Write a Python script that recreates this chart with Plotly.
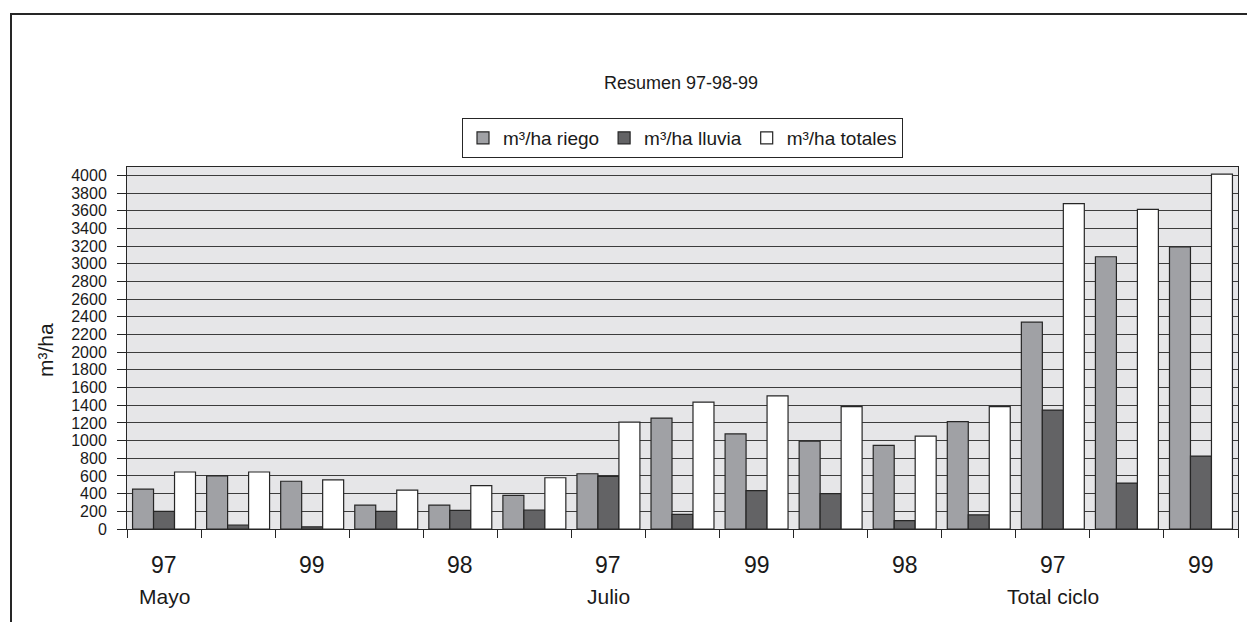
import plotly.graph_objects as go

# Water applied per hectare, by period and campaign
years = ["97", "98", "99", "97", "98", "99", "97", "98", "99", "97", "98", "99", "97", "98", "99"]
periods = ["Mayo", "Julio", "Total ciclo"]
period_start = [0, 6, 12]
riego = [450, 600, 540, 270, 270, 380, 625, 1255, 1075, 995, 945, 1215, 2340, 3080, 3190]
lluvia = [200, 45, 25, 200, 210, 215, 595, 165, 435, 400, 95, 160, 1345, 520, 825]
totales = [645, 645, 555, 440, 490, 580, 1210, 1435, 1505, 1385, 1050, 1385, 3680, 3615, 4015]
y_ticks = list(range(0, 4001, 200))

FONT = "Liberation Sans Narrow, Arial Narrow, Liberation Sans, Arial, sans-serif"
INK = "#1a1a1a"
W, H = 1247, 622
ML, MR, MT, MB = 127, 9, 167, 93

x = list(range(len(years)))
outline = dict(color="#262626", width=1.2)

fig = go.Figure()
fig.add_bar(x=x, y=riego, name="m³/ha riego", marker=dict(color="#a0a1a5", line=outline))
fig.add_bar(x=x, y=lluvia, name="m³/ha lluvia", marker=dict(color="#636365", line=outline))
fig.add_bar(x=x, y=totales, name="m³/ha totales", marker=dict(color="#ffffff", line=outline))

pw = W - ML - MR
ph = H - MT - MB


def px_x(p):
    return (p - ML) / pw


def px_y(p):
    return (H - MB - p) / ph


annotations = []
# every other year label is shown along the category axis
for i in range(0, len(years), 2):
    annotations.append(dict(x=i, y=px_y(565), xref="x", yref="paper", text=years[i],
                            showarrow=False, font=dict(size=23, family=FONT, color=INK),
                            xanchor="center", yanchor="middle"))
for name, start in zip(periods, period_start):
    annotations.append(dict(x=start, y=px_y(596), xref="x", yref="paper", text=name,
                            showarrow=False, font=dict(size=21, family=FONT, color=INK),
                            xanchor="center", yanchor="middle"))
annotations.append(dict(x=px_x(45), y=px_y(350), xref="paper", yref="paper", text="m³/ha",
                        textangle=-90, showarrow=False,
                        font=dict(size=21, family=FONT, color=INK),
                        xanchor="center", yanchor="middle"))

fig.update_layout(
    width=W, height=H,
    margin=dict(l=ML, r=MR, t=MT, b=MB, pad=0),
    paper_bgcolor="#ffffff",
    plot_bgcolor="#e6e6e8",
    barmode="group",
    bargap=0.15,
    bargroupgap=0,
    font=dict(family=FONT, color=INK),
    title=dict(text="Resumen 97-98-99", xref="container", x=681 / W, xanchor="center",
               y=1 - 83 / H, yanchor="middle", font=dict(size=18, family=FONT, color=INK)),
    showlegend=True,
    legend=dict(orientation="h", x=0.5, xanchor="center", y=px_y(118), yanchor="top",
                bgcolor="#ffffff", bordercolor="#262626", borderwidth=1,
                font=dict(size=19, family=FONT, color=INK),
                itemwidth=30, traceorder="normal", tracegroupgap=0),
    xaxis=dict(range=[-0.5, len(years) - 0.5],
               tickvals=[i - 0.5 for i in range(len(years) + 1)],
               ticktext=[""] * (len(years) + 1),
               ticks="outside", ticklen=8, tickcolor="#262626", tickwidth=1,
               showgrid=False, zeroline=False,
               showline=True, linecolor="#262626", linewidth=1, mirror=True),
    yaxis=dict(range=[0, 4095], tickvals=y_ticks,
               ticks="outside", ticklen=9, tickcolor="#262626", tickwidth=1,
               ticklabelstandoff=7,
               tickfont=dict(size=16, family=FONT, color=INK),
               showgrid=True, gridcolor="#3c3c3c", gridwidth=1,
               zeroline=False,
               showline=True, linecolor="#262626", linewidth=1, mirror=True),
    annotations=annotations,
    shapes=[dict(type="rect", xref="paper", yref="paper",
                 x0=px_x(11), x1=px_x(W + 20), y0=px_y(14), y1=px_y(H + 20),
                 line=dict(color="#262626", width=2), fillcolor="rgba(0,0,0,0)",
                 layer="above")],
)

fig.write_html("out.html")
